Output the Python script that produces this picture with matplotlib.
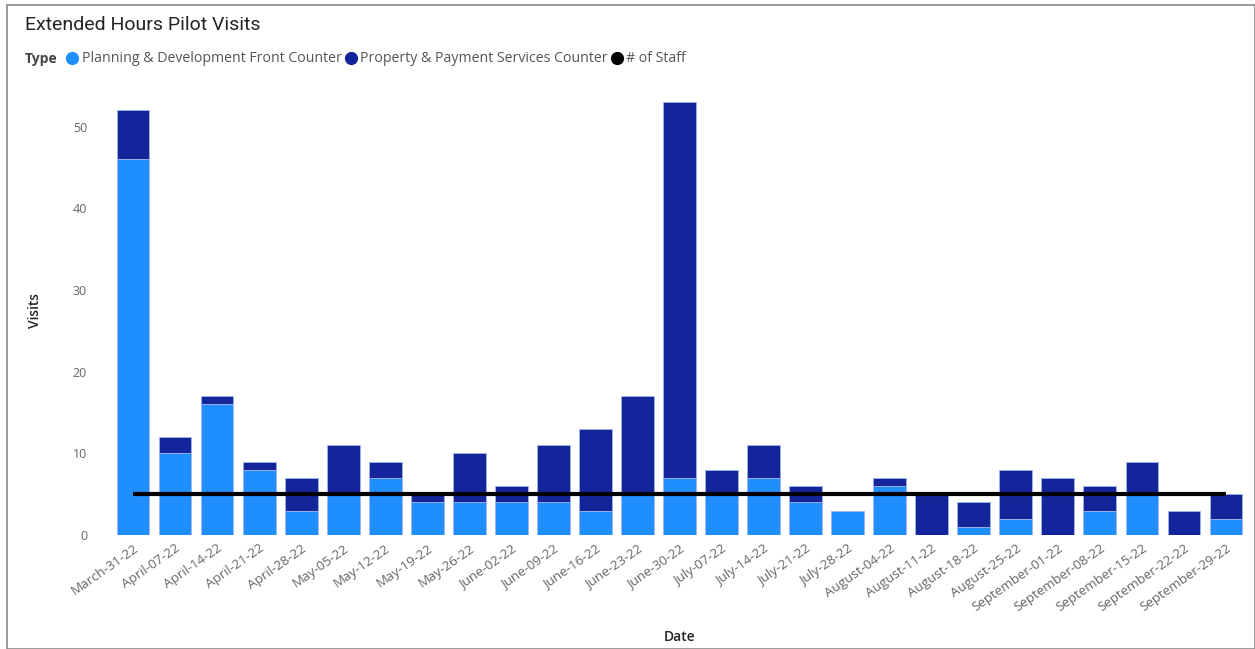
import matplotlib
matplotlib.use("Agg")
import matplotlib.pyplot as plt
from matplotlib.lines import Line2D
from matplotlib.patches import Rectangle
import numpy as np

dates = ["March-31-22", "April-07-22", "April-14-22", "April-21-22", "April-28-22",
         "May-05-22", "May-12-22", "May-19-22", "May-26-22", "June-02-22", "June-09-22",
         "June-16-22", "June-23-22", "June-30-22", "July-07-22", "July-14-22", "July-21-22",
         "July-28-22", "August-04-22", "August-11-22", "August-18-22", "August-25-22",
         "September-01-22", "September-08-22", "September-15-22", "September-22-22",
         "September-29-22"]
planning = [46, 10, 16, 8, 3, 5, 7, 4, 4, 4, 4, 3, 5, 7, 5, 7, 4, 3, 6, 0, 1, 2, 0, 3, 5, 0, 2]
property_pay = [6, 2, 1, 1, 4, 6, 2, 1, 6, 2, 7, 10, 12, 46, 3, 4, 2, 0, 1, 5, 3, 6, 7, 3, 4, 3, 3]
staff = [5] * len(dates)

c_light = "#1F8EFF"
c_dark = "#14259C"
tick_gray = "#666666"

plt.rcParams['font.family'] = ['Open Sans', 'DejaVu Sans']

fig = plt.figure(figsize=(12.55, 6.49), dpi=100)
ax = fig.add_axes([112/1255, 1-535/649, 1135/1255, (535-86)/649])

x = np.arange(len(dates))
ax.bar(x, planning, width=0.78, color=c_light, edgecolor="#9fb6ee", linewidth=0.6)
ax.bar(x, property_pay, width=0.78, bottom=planning, color=c_dark, edgecolor="#9fb6ee", linewidth=0.6)
ax.plot(x, staff, color="black", linewidth=3, solid_capstyle="butt")

ax.set_xlim(-0.5, len(dates) - 0.5)
ax.set_ylim(0, 55)
ax.set_yticks([0, 10, 20, 30, 40, 50])
ax.set_xticks(x)
ax.set_xticklabels(dates, rotation=35, ha="right", rotation_mode="anchor",
                   fontsize=9.6, color=tick_gray)
ax.tick_params(axis="y", labelsize=9, labelcolor=tick_gray, length=0, pad=18)
ax.tick_params(axis="x", length=0, pad=5)
for s in ax.spines.values():
    s.set_visible(False)

ax.set_ylabel("Visits", fontsize=10, color="#252423", labelpad=22, fontweight="semibold")
fig.text(680/1255, 1-637/649, "Date", fontsize=10, color="#252423", ha="center", va="center",
         fontweight="semibold")

fig.text(25/1255, 1-25/649, "Extended Hours Pilot Visits", fontsize=14, color="#252423",
         ha="left", va="center", family=["Roboto", "DejaVu Sans"])
fig.text(25/1255, 1-59/649, "Type", fontsize=10, color="#444444", fontweight="bold",
         ha="left", va="center")

handles = [Line2D([], [], marker="o", linestyle="", color=c, markersize=8.5)
           for c in (c_light, c_dark, "black")]
labels = ["Planning & Development Front Counter", "Property & Payment Services Counter", "# of Staff"]
leg = fig.legend(handles, labels, loc="center left", bbox_to_anchor=(66/1255, 1-59/649),
                 ncol=3, frameon=False, handlelength=0.9, handletextpad=0.2,
                 columnspacing=0.2, borderaxespad=0, borderpad=0,
                 prop={"size": 10.2})
for t in leg.get_texts():
    t.set_color("#555555")

fig.patches.append(Rectangle((7/1255, 0), 1 - 7/1255, 1 - 5/649, transform=fig.transFigure,
                             fill=False, edgecolor="#8a8a8a", linewidth=1.2))

fig.savefig("out.png", dpi=100)
